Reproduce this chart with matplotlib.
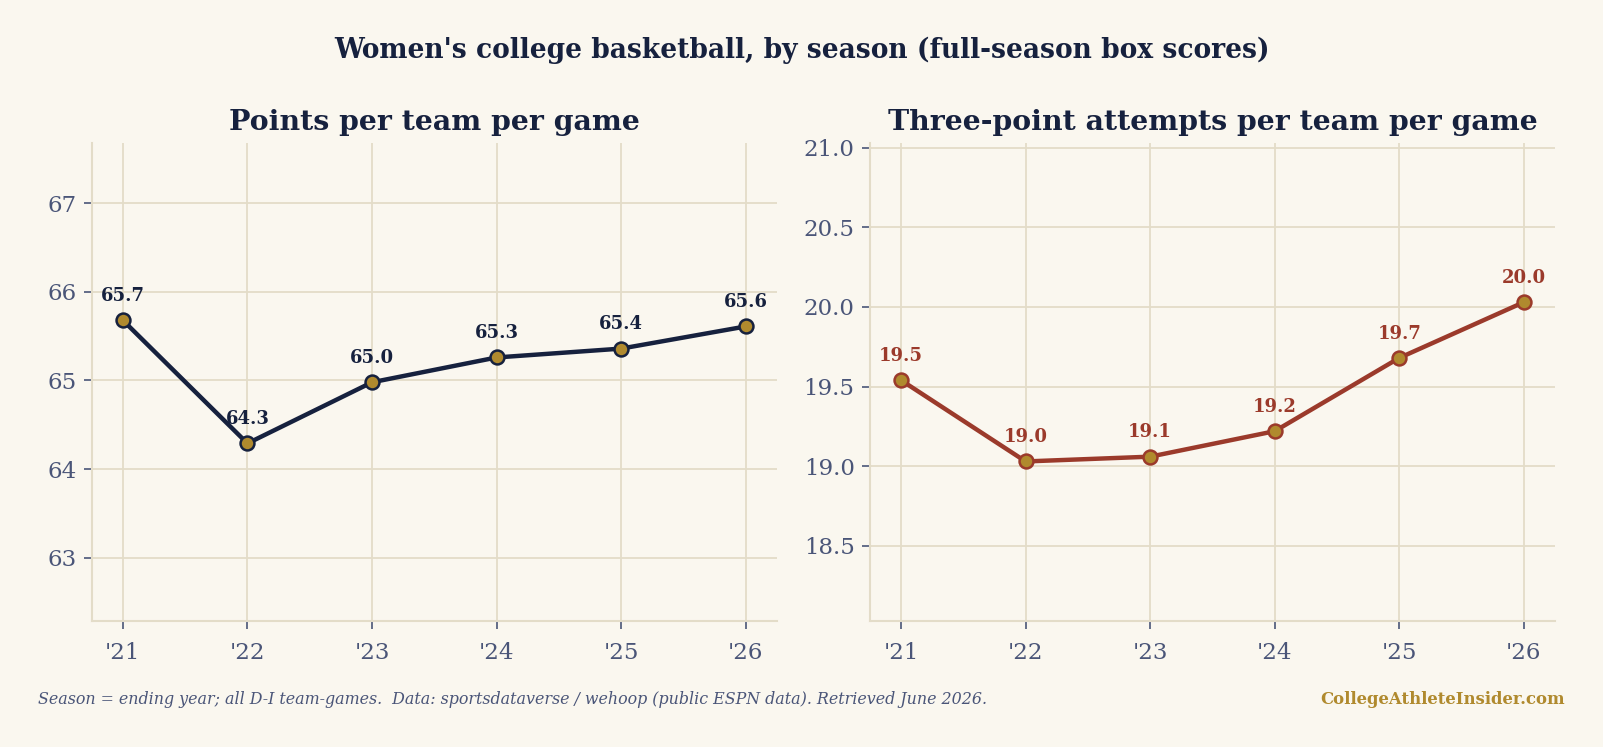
import matplotlib
matplotlib.use("Agg")
import matplotlib.pyplot as plt

# Season labels (ending year)
seasons = ["'21", "'22", "'23", "'24", "'25", "'26"]
# Points per team per game
points = [65.68, 64.29, 64.98, 65.26, 65.36, 65.61]
# Three-point attempts per team per game
threes = [19.54, 19.03, 19.06, 19.22, 19.68, 20.03]

BG = "#faf7ef"
NAVY = "#16213e"
RED = "#9b3a2b"
GOLD = "#b08a2e"
SLATE = "#4a5578"
GRID = "#e3dcc8"

plt.rcParams['font.family'] = ['DejaVu Serif']

fig = plt.figure(figsize=(16.03, 7.47), dpi=100, facecolor=BG)
ax1 = fig.add_axes([0.0572, 0.1691, 0.4275, 0.6395])
ax2 = fig.add_axes([0.5427, 0.1691, 0.4273, 0.6395])

x = list(range(len(seasons)))


def draw(ax, vals, color, title, fmt_ticks, pad):
    ax.set_facecolor(BG)
    ax.plot(x, vals, color=color, lw=3.2, zorder=3,
            marker='o', markersize=10, markerfacecolor=GOLD,
            markeredgecolor=color, markeredgewidth=1.8)
    for xi, v in zip(x, vals):
        ax.annotate(f"{v:.1f}", (xi, v), xytext=(0, 11), textcoords='offset points',
                    ha='center', va='bottom', fontsize=13, fontweight='bold',
                    color=color, zorder=4)
    ax.set_xticks(x)
    ax.set_xticklabels(seasons)
    ax.set_xlim(-0.25, 5.25)
    ax.set_ylim(min(vals) - pad, max(vals) + pad)
    ax.yaxis.set_major_formatter(plt.FuncFormatter(fmt_ticks))
    ax.grid(True, color=GRID, lw=1.3, zorder=0)
    for s in ['top', 'right']:
        ax.spines[s].set_visible(False)
    for s in ['left', 'bottom']:
        ax.spines[s].set_color(GRID)
        ax.spines[s].set_linewidth(1.5)
    ax.tick_params(colors=SLATE, labelsize=16.5, length=6, width=1.2, pad=5)
    ax.tick_params(axis='x', pad=9)
    ax.set_title(title, fontsize=20.4, fontweight='bold', color=NAVY, pad=9)


draw(ax1, points, NAVY, "Points per team per game", lambda v, p: f"{v:.0f}", 2.0)
ax1.set_yticks([63, 64, 65, 66, 67])
draw(ax2, threes, RED, "Three-point attempts per team per game", lambda v, p: f"{v:.1f}", 1.0)
ax2.set_yticks([18.5, 19.0, 19.5, 20.0, 20.5, 21.0])

fig.text(0.5, 0.933, "Women's college basketball, by season (full-season box scores)",
         ha='center', va='center', fontsize=19.1, fontweight='bold', color=NAVY)
fig.text(0.0237, 0.063, "Season = ending year; all D-I team-games.  Data: sportsdataverse / wehoop (public ESPN data). Retrieved June 2026.",
         ha='left', va='center', fontsize=11.4, style='italic', color=SLATE)
fig.text(0.976, 0.063, "CollegeAthleteInsider.com", ha='right', va='center',
         fontsize=11.85, fontweight='bold', color=GOLD)

fig.savefig("out.png", dpi=100, facecolor=BG)
